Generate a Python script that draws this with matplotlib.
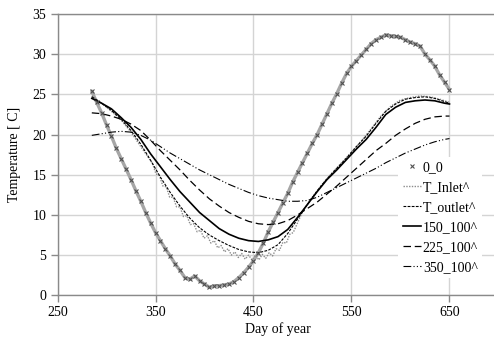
import numpy as np
import matplotlib
matplotlib.use("Agg")
import matplotlib.pyplot as plt

plt.rcParams['font.family'] = ['Liberation Serif', 'DejaVu Serif']
plt.rcParams['font.size'] = 10

# measured ground temperature, every 5 days
days_0 = np.arange(285, 651, 5)
t_0 = [25.4, 24.0, 22.7, 21.2, 19.8, 18.3, 17.0, 15.7, 14.4, 13.0,
       11.7, 10.3, 9.0, 7.8, 6.8, 5.8, 4.9, 3.9, 3.1, 2.2,
       2.0, 2.4, 1.8, 1.4, 1.0, 1.2, 1.2, 1.3, 1.4, 1.7,
       2.2, 2.8, 3.5, 4.3, 5.3, 6.5, 7.9, 9.1, 10.3, 11.5,
       12.7, 14.1, 15.3, 16.5, 17.7, 18.9, 20.0, 21.3, 22.6, 23.9,
       25.1, 26.4, 27.6, 28.5, 29.2, 29.9, 30.6, 31.3, 31.8, 32.1,
       32.4, 32.3, 32.2, 32.1, 31.8, 31.5, 31.3, 31.0, 30.0, 29.3,
       28.5, 27.4, 26.5, 25.6]

# model curves, every 10 days
days_c = list(range(285, 646, 10)) + [650]
t_outlet = [24.7, 23.9, 23.0, 21.9, 20.5, 18.8, 16.8, 14.7, 12.8, 11.1,
            9.6, 8.4, 7.5, 6.8, 6.2, 5.7, 5.4, 5.3, 5.6, 6.3,
            7.7, 9.5, 11.3, 13.0, 14.5, 15.8, 17.1, 18.5, 19.8, 21.4,
            22.9, 23.8, 24.4, 24.6, 24.7, 24.5, 24.1, 23.9]
t_150 = [24.5, 23.9, 23.2, 22.1, 20.9, 19.4, 17.6, 16.0, 14.4, 12.9,
         11.6, 10.3, 9.3, 8.3, 7.6, 7.1, 6.8, 6.7, 6.9, 7.3,
         8.2, 9.7, 11.3, 12.9, 14.4, 15.6, 16.9, 18.2, 19.4, 20.9,
         22.5, 23.4, 24.0, 24.2, 24.3, 24.2, 23.9, 23.8]
t_225 = [22.7, 22.6, 22.3, 21.9, 21.3, 20.5, 19.3, 18.0, 16.8, 15.6,
         14.3, 13.1, 12.0, 11.1, 10.3, 9.7, 9.2, 8.9, 8.8, 8.9,
         9.3, 10.0, 10.8, 11.6, 12.6, 13.6, 14.7, 15.8, 16.9, 18.0,
         18.9, 19.9, 20.7, 21.4, 21.9, 22.2, 22.3, 22.3]
t_350 = [19.9, 20.1, 20.3, 20.4, 20.3, 19.9, 19.3, 18.5, 17.7, 17.0,
         16.3, 15.6, 15.0, 14.4, 13.8, 13.3, 12.8, 12.4, 12.1, 11.9,
         11.7, 11.7, 11.8, 12.2, 12.8, 13.4, 14.0, 14.6, 15.2, 15.8,
         16.5, 17.1, 17.7, 18.2, 18.7, 19.1, 19.4, 19.5]

# inlet temperature (weekly ripple in the trough)
days_in = ([285, 295, 305, 315, 325, 335] + list(np.arange(347, 491, 3.5))
           + [500, 510, 520, 530, 540, 550, 560, 570, 580, 590, 600, 610,
              620, 630, 640, 650])
t_inlet = [24.8, 23.9, 22.9, 21.8, 20.3, 18.5,
           16.4, 15.1, 14.9, 13.6, 13.5, 12.2, 12.2, 11.0, 11.0, 9.8,
           9.9, 8.8, 8.9, 7.9, 8.1, 7.1, 7.4, 6.5, 6.8, 5.9,
           6.2, 5.4, 5.8, 5.0, 5.4, 4.7, 5.2, 4.5, 5.0, 4.4,
           5.0, 4.4, 5.1, 4.6, 5.3, 4.9, 5.8, 5.6, 6.6, 6.5,
           7.6, 7.8,
           10.4, 12.2, 13.8, 15.2, 16.5, 17.8, 19.2, 20.7, 22.3, 23.5,
           24.3, 24.6, 24.8, 24.7, 24.4, 24.0]

fig = plt.figure(figsize=(4.94, 3.38), dpi=100)
ax = fig.add_axes([0.1164, 0.1263, 0.8927, 0.8323])

ax.plot(days_0, t_0, color='#a6a6a6', lw=2.4, solid_capstyle='round', zorder=2)
ax.plot(days_0, t_0, 'x', color='#505050', ms=3.0, mew=0.8, label='0_0', zorder=3)
ax.plot(days_in, t_inlet, color='#8c8c8c', lw=1.0, ls=(0, (1, 1)), label='T_Inlet^')
ax.plot(days_c, t_outlet, color='black', lw=0.8, ls=(0, (2.5, 1.2)), label='T_outlet^')
ax.plot(days_c, t_150, color='black', lw=1.2, label='150_100^')
ax.plot(days_c, t_225, color='black', lw=0.9, ls=(0, (6, 3)), label='225_100^')
ax.plot(days_c, t_350, color='black', lw=0.8, ls=(0, (7, 2, 1, 2, 1, 2)), label='350_100^')

ax.set_xlim(250, 700)
ax.set_ylim(0, 35)
ax.set_xticks([250, 350, 450, 550, 650])
ax.set_yticks(range(0, 36, 5))
ax.grid(True, color='#d4d4d4', lw=1.0)
ax.set_axisbelow(True)
for s in ['left', 'bottom', 'top']:
    ax.spines[s].set_color('#8a8a8a')
    ax.spines[s].set_linewidth(1.0)
ax.spines['right'].set_visible(False)
ax.tick_params(color='#8a8a8a', length=5, width=1.0, labelsize=10, pad=3)

ax.set_xlabel('Day of year', fontsize=10, labelpad=2)
ax.set_ylabel('Temperature [ C]', fontsize=10, labelpad=8)

leg = ax.legend(loc='upper left', bbox_to_anchor=(0.7732, 0.4917),
                borderaxespad=0, frameon=True, fancybox=False,
                edgecolor='none', facecolor='white', framealpha=1,
                handlelength=1.3, handletextpad=0.15, labelspacing=0.5,
                borderpad=0.3, fontsize=10)

fig.savefig('out.png', dpi=100)
